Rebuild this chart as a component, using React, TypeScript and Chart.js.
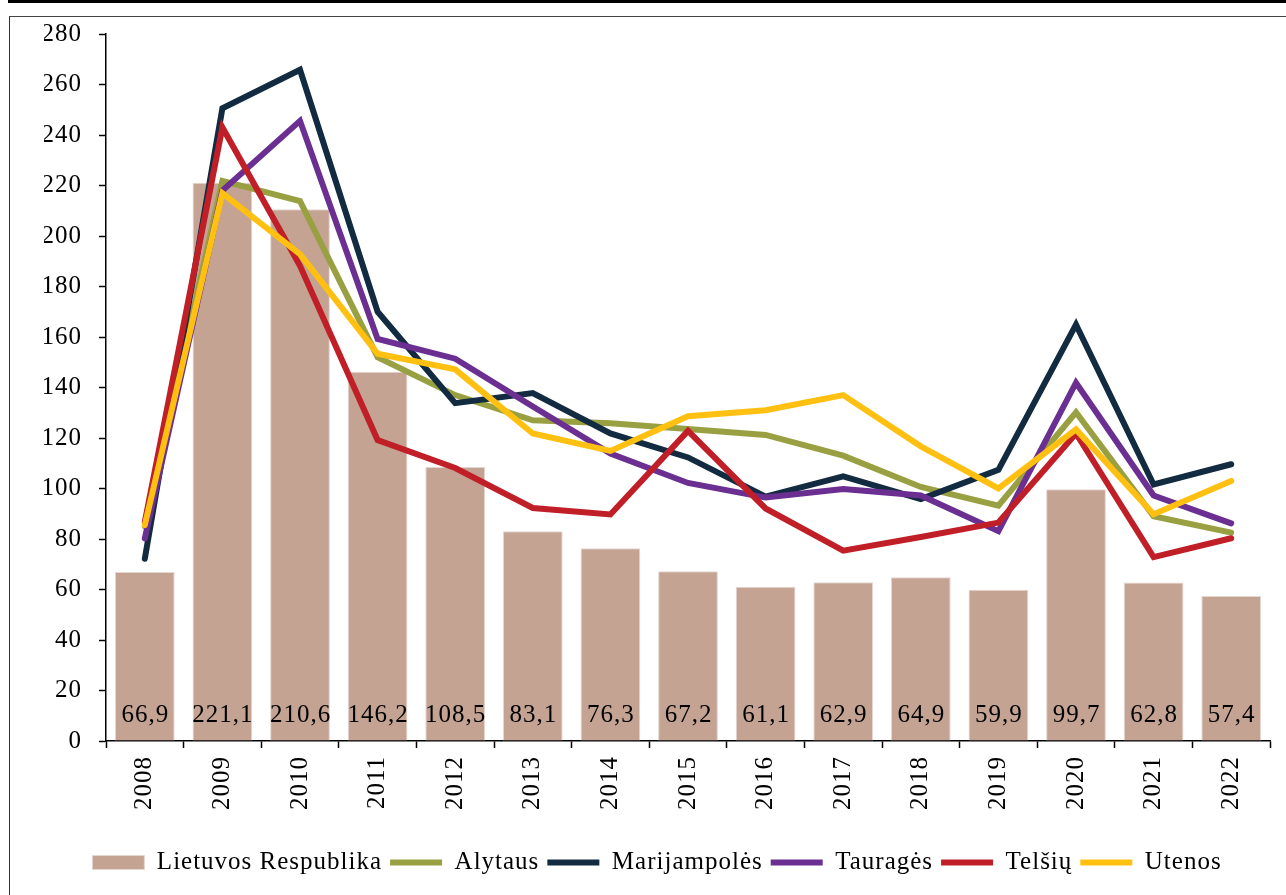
import React, { useEffect, useRef } from "react";
import { Chart, registerables } from "chart.js";

Chart.register(...registerables);

const years = ["2008", "2009", "2010", "2011", "2012", "2013", "2014", "2015", "2016", "2017", "2018", "2019", "2020", "2021", "2022"];
const lietuvos = [66.9, 221.1, 210.6, 146.2, 108.5, 83.1, 76.3, 67.2, 61.1, 62.9, 64.9, 59.9, 99.7, 62.8, 57.4];
const alytaus = [85, 221.8, 213.8, 152, 137, 127, 125.8, 123.6, 121.2, 113, 100.6, 93.2, 130.2, 89, 82.5];
const marijampoles = [72.2, 250.6, 265.8, 170, 133.8, 137.8, 121.8, 112.3, 96.8, 104.8, 95.8, 107.4, 164.9, 101.6, 109.6];
const taurages = [80.2, 218, 245.6, 159.2, 151.4, 132.5, 113.8, 102.2, 96.4, 99.8, 97.2, 83.1, 141.9, 97.2, 86.2];
const telsiu = [86.8, 243, 188.2, 119.2, 108.1, 92.3, 89.7, 122.8, 92.1, 75.4, 80.8, 86.5, 121.8, 72.8, 80.3];
const utenos = [85.5, 216.9, 192.8, 153.4, 147.2, 121.8, 114.9, 128.6, 131, 137, 116.7, 100, 123.4, 89.8, 103];

const FONT_FAMILY = "'Liberation Serif', 'Times New Roman', serif";
const FONT_SIZE = 25;
const SPACING = "1px";

const fmt = (v: number) => v.toFixed(1).replace(".", ",");

const spacingPlugin = {
  id: "letterSpacing",
  beforeUpdate(chart: any) {
    chart.ctx.letterSpacing = SPACING;
  },
  beforeDraw(chart: any) {
    chart.ctx.letterSpacing = SPACING;
  },
};

const barLabelPlugin = {
  id: "barLabels",
  afterDatasetsDraw(chart: any) {
    const meta = chart.getDatasetMeta(0);
    const ctx = chart.ctx;
    const y0 = chart.scales.y.getPixelForValue(0);
    ctx.save();
    ctx.letterSpacing = SPACING;
    ctx.font = `${FONT_SIZE}px ${FONT_FAMILY}`;
    ctx.fillStyle = "#000";
    ctx.textAlign = "center";
    ctx.textBaseline = "middle";
    meta.data.forEach((el: any, i: number) => {
      ctx.fillText(fmt(lietuvos[i]), el.x + 0.5, y0 - 26);
    });
    ctx.restore();
  },
};

function lineDs(label: string, data: number[], color: string, order: number) {
  return {
    type: "line" as const,
    label,
    data,
    borderColor: color,
    backgroundColor: color,
    borderWidth: 6,
    borderCapStyle: "round" as const,
    borderJoinStyle: "miter" as const,
    pointRadius: 0,
    pointStyle: "line",
    tension: 0,
    fill: false,
    order,
  };
}

export default function App() {
  const ref = useRef<HTMLCanvasElement | null>(null);

  useEffect(() => {
    if (!ref.current) return;
    const chart = new Chart(ref.current, {
      type: "bar",
      data: {
        labels: years,
        datasets: [
          {
            type: "bar",
            label: "Lietuvos Respublika",
            data: lietuvos,
            backgroundColor: "#C4A393",
            borderColor: "#E4D6D0",
            borderWidth: 1,
            barPercentage: 0.77,
            categoryPercentage: 1,
            pointStyle: "rect",
            order: 6,
          } as any,
          lineDs("Alytaus", alytaus, "#99A041", 5),
          lineDs("Marijampolės", marijampoles, "#122B40", 4),
          lineDs("Tauragės", taurages, "#6B2F92", 3),
          lineDs("Telšių", telsiu, "#C01F28", 2),
          lineDs("Utenos", utenos, "#FFC012", 1),
        ],
      },
      options: {
        responsive: false,
        animation: false,
        devicePixelRatio: 1,
        events: [],
        layout: { padding: { left: 44, right: 16, top: 34, bottom: 10 } },
        plugins: {
          tooltip: { enabled: false },
          legend: {
            position: "bottom",
            labels: {
              sort: (a: any, b: any) => a.datasetIndex - b.datasetIndex,
              usePointStyle: true,
              pointStyleWidth: 52,
              boxHeight: 14,
              padding: 8,
              color: "#000",
              font: { family: FONT_FAMILY, size: FONT_SIZE },
            },
          },
        },
        scales: {
          x: {
            offset: true,
            grid: {
              display: true,
              drawOnChartArea: false,
              drawTicks: true,
              tickLength: 7,
              tickWidth: 1.5,
              tickColor: "#000",
              offset: true,
            },
            border: { display: true, color: "#000", width: 1.5 },
            ticks: {
              color: "#000",
              font: { family: FONT_FAMILY, size: FONT_SIZE },
              minRotation: 90,
              maxRotation: 90,
              padding: 8,
              autoSkip: false,
            },
            afterFit: (scale: any) => {
              scale.height = 101;
            },
          },
          y: {
            min: 0,
            max: 280,
            grid: {
              display: true,
              drawOnChartArea: false,
              drawTicks: true,
              tickLength: 7,
              tickWidth: 1.5,
              tickColor: "#000",
            },
            border: { display: true, color: "#000", width: 1.5 },
            ticks: {
              stepSize: 20,
              color: "#000",
              font: { family: FONT_FAMILY, size: FONT_SIZE },
              padding: 17,
            },
            afterFit: (scale: any) => {
              scale.width = 62;
            },
          },
        },
      } as any,
      plugins: [spacingPlugin, barLabelPlugin],
    });
    return () => chart.destroy();
  }, []);

  return (
    <div
      style={{
        position: "fixed",
        left: 0,
        top: 0,
        width: 1286,
        height: 895,
        overflow: "hidden",
        background: "#fff",
      }}
    >
      <div style={{ position: "absolute", left: 8, top: 0, width: 1278, height: 3, background: "#000" }} />
      <div
        style={{
          position: "absolute",
          left: 9,
          top: 16,
          width: 1400,
          height: 1000,
          borderLeft: "1.5px solid #333",
          borderTop: "1.5px solid #444",
        }}
      />
      <canvas
        ref={ref}
        width={1286}
        height={895}
        style={{ position: "absolute", left: 0, top: 0, width: 1286, height: 895, display: "block" }}
      />
    </div>
  );
}
